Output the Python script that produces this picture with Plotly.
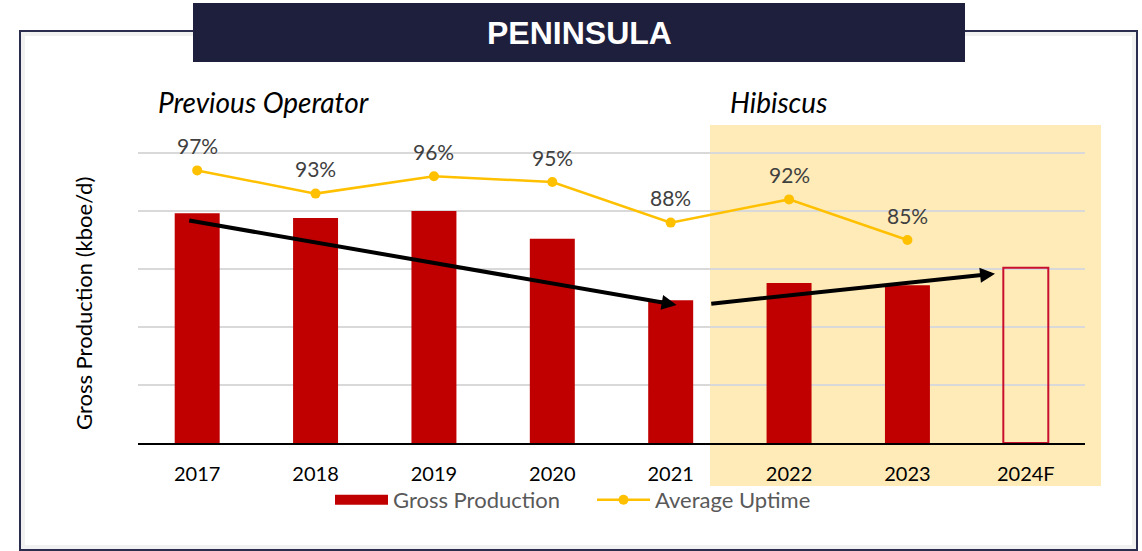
import plotly.graph_objects as go

# ---- data ----
years = ["2017", "2018", "2019", "2020", "2021", "2022", "2023", "2024F"]
gross_production = [19.8, 19.4, 20.0, 17.6, 12.3, 13.8, 13.6, 15.1]  # kboe/d (no scale shown)
average_uptime = [97, 93, 96, 95, 88, 92, 85, None]  # %
uptime_labels = ["97%", "93%", "96%", "95%", "88%", "92%", "85%", ""]

# ---- layout geometry (pixels) ----
W, H = 1142, 551
L, R, T, B = 138, 1085, 150, 443


def px(x):
    return (x - L) / (R - L)


def py(y):
    return (B - y) / (B - T)


RED = "#C00000"
GOLD = "#FFC000"
NAVY = "#1E1F3D"
FONT = "Lato"

fig = go.Figure()

bar_fill = [RED] * (len(years) - 1) + ["rgba(0,0,0,0)"]
bar_line_w = [0] * (len(years) - 1) + [2]

fig.add_trace(go.Bar(
    x=years, y=gross_production, name="Gross Production",
    marker=dict(color=bar_fill, line=dict(color="#C8102E", width=bar_line_w)),
    width=0.38, showlegend=False, yaxis="y",
))
# legend swatch for the bars (wide rectangle like the original)
fig.add_trace(go.Scatter(
    x=[None], y=[None], mode="lines", name="Gross Production",
    line=dict(color=RED, width=15), showlegend=True, yaxis="y",
))
fig.add_trace(go.Scatter(
    x=years, y=average_uptime, name="Average Uptime", mode="lines+markers",
    line=dict(color=GOLD, width=2.5), marker=dict(color=GOLD, size=10),
    yaxis="y2", cliponaxis=False, connectgaps=False,
))

annotations = []
for i, (v, lab) in enumerate(zip(average_uptime, uptime_labels)):
    if v is None:
        continue
    annotations.append(dict(
        x=i, y=v, xref="x", yref="y2", text=lab, showarrow=False,
        yshift=25, xanchor="center", yanchor="middle",
        font=dict(family=FONT, size=21, color="#404040"),
    ))

# trend arrows (data coordinates: category index, production value)
arrows = [
    ((-0.08, 19.2), (4.05, 11.9)),
    ((4.33, 12.0), (6.74, 14.6)),
]
for (x0, y0), (x1, y1) in arrows:
    annotations.append(dict(
        x=x1, y=y1, ax=x0, ay=y0, xref="x", yref="y", axref="x", ayref="y",
        text="", showarrow=True, arrowhead=2, arrowsize=0.75, arrowwidth=4,
        arrowcolor="black", standoff=0, startstandoff=0,
    ))

annotations += [
    dict(x=px(263.5), y=py(102), xref="paper", yref="paper", text="<i>Previous Operator</i>",
         showarrow=False, font=dict(family=FONT, size=28, color="black"),
         xanchor="center", yanchor="middle"),
    dict(x=px(778), y=py(102), xref="paper", yref="paper", text="<i>Hibiscus</i>",
         showarrow=False, font=dict(family=FONT, size=28, color="black"),
         xanchor="center", yanchor="middle"),
    dict(x=px(579), y=py(33), xref="paper", yref="paper", text="<b>PENINSULA</b>",
         showarrow=False, font=dict(family="Liberation Sans", size=32, color="white"),
         xanchor="center", yanchor="middle"),
    dict(x=px(83), y=py(304), xref="paper", yref="paper", text="Gross Production (kboe/d)",
         showarrow=False, textangle=-90, font=dict(family=FONT, size=22, color="black"),
         xanchor="center", yanchor="middle"),
]

shapes = [
    # outer frame shadow
    dict(type="rect", xref="paper", yref="paper", x0=px(23), x1=px(1134), y0=py(547), y1=py(34),
         line=dict(color="#F1F1F1", width=4), fillcolor="rgba(0,0,0,0)", layer="below"),
    # outer frame
    dict(type="rect", xref="paper", yref="paper", x0=px(20), x1=px(1137), y0=py(550), y1=py(31),
         line=dict(color="#2B2D4E", width=2), fillcolor="rgba(0,0,0,0)", layer="below"),
    # Hibiscus period shading
    dict(type="rect", xref="paper", yref="paper", x0=px(710), x1=px(1101), y0=py(486), y1=py(125),
         line=dict(width=0), fillcolor="#FFEBB8", layer="below"),
    # title box
    dict(type="rect", xref="paper", yref="paper", x0=px(193), x1=px(965), y0=py(62), y1=py(3),
         line=dict(width=0), fillcolor=NAVY, layer="below"),
]

fig.update_layout(
    width=W, height=H,
    margin=dict(l=L, r=W - R, t=T, b=H - B, pad=0),
    paper_bgcolor="white", plot_bgcolor="rgba(0,0,0,0)",
    font=dict(family=FONT, size=20, color="black"),
    bargap=0.62,
    showlegend=True,
    legend=dict(orientation="h", x=px(330), y=py(500), xanchor="left", yanchor="middle",
                font=dict(family=FONT, size=22, color="#595959"), itemwidth=53,
                entrywidth=194, entrywidthmode="pixels",
                bgcolor="rgba(0,0,0,0)", traceorder="normal"),
    xaxis=dict(type="category", showgrid=False, showline=True, linecolor="black", linewidth=2,
               ticks="", ticklabelstandoff=12, tickfont=dict(family=FONT, size=20, color="black"),
               zeroline=False, range=[-0.5, 7.5]),
    yaxis=dict(range=[0, 25.26], tickvals=[5, 10, 15, 20, 25], showgrid=True,
               gridcolor="#D9D9D9", gridwidth=1.5,
               showticklabels=False, ticks="", zeroline=False, showline=False),
    yaxis2=dict(range=[50, 100.52], overlaying="y", side="right", showgrid=False,
                showticklabels=False, ticks="", zeroline=False, showline=False),
    annotations=annotations,
    shapes=shapes,
)

fig.write_html(
    "out.html",
    config={"displayModeBar": False},
    post_script="document.body.style.margin='0';document.body.style.overflow='hidden';",
)
